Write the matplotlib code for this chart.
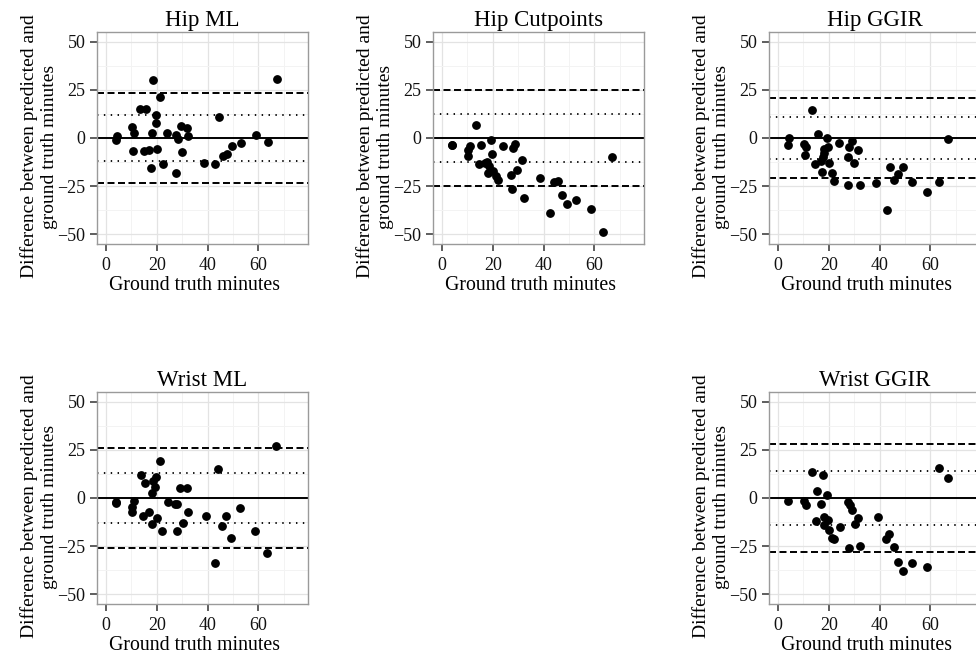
import numpy as np
import matplotlib
matplotlib.use("Agg")
import matplotlib.pyplot as plt
from matplotlib.ticker import MultipleLocator

plt.rcParams['font.family'] = ['Liberation Serif', 'DejaVu Serif']

# data (ground truth minutes, predicted - truth)
hip_ml_x = [4.2, 4.1, 10.4, 11.0, 10.5, 13.4, 15.6, 14.8, 16.9, 18.4, 18.0, 17.6,
            19.7, 19.9, 20.2, 21.3, 22.3, 24.0, 27.6, 28.2, 29.4, 30.1, 27.6, 31.9,
            32.4, 38.7, 43.1, 44.5, 46.0, 47.5, 49.5, 53.2, 59.2, 63.9, 67.4]
hip_ml_y = [1.0, -1.2, 5.9, 2.8, -6.8, 14.8, 15.2, -6.6, -6.4, 30.2, 2.4, -15.7,
            7.7, 12.0, -5.6, 21.1, -13.4, 2.8, 1.7, -0.4, 6.4, -7.5, -18.3, 5.2,
            0.9, -12.9, -13.4, 11.0, -9.4, -8.5, -4.0, -2.4, 1.6, -2.1, 30.5]

hip_cut_x = [3.8, 4.1, 10.3, 11.0, 10.4, 13.4, 15.4, 14.7, 16.8, 17.6, 18.1, 18.4,
             19.4, 19.8, 20.1, 21.2, 22.1, 23.9, 27.3, 27.5, 27.9, 28.7, 29.7, 31.4,
             32.1, 38.4, 42.7, 44.2, 45.7, 47.3, 49.2, 52.7, 58.8, 63.2, 66.8]
hip_cut_y = [-3.8, -3.5, -6.1, -4.0, -9.4, 6.6, -3.7, -13.7, -12.8, -12.2, -18.3, -14.4,
             -1.0, -8.2, -17.2, -19.7, -21.9, -4.2, -19.3, -26.3, -5.2, -3.0, -16.7, -11.5,
             -31.0, -20.7, -39.0, -23.0, -22.5, -29.6, -34.3, -32.1, -36.8, -49.0, -10.1]

hip_ggir_x = [4.2, 3.9, 10.3, 11.0, 10.5, 13.5, 15.6, 14.7, 16.8, 17.7, 17.5, 18.2,
              18.3, 19.5, 19.9, 20.1, 21.2, 22.0, 23.9, 27.4, 27.5, 28.1, 29.1, 29.9,
              31.7, 32.2, 38.4, 42.9, 44.0, 45.8, 47.3, 49.1, 52.7, 58.8, 63.2, 66.8]
hip_ggir_y = [-0.2, -3.8, -3.1, -4.7, -9.0, 14.3, 2.1, -13.4, -11.7, -9.9, -17.4, -8.0,
              -5.7, 0.0, -4.7, -13.0, -18.3, -22.1, -2.4, -24.2, -9.6, -4.5, -1.7, -13.0,
              -6.4, -24.3, -23.3, -37.4, -15.1, -21.7, -18.6, -15.1, -23.0, -28.2, -22.6, -0.7]

wrist_ml_x = [3.9, 3.9, 10.3, 10.3, 11.1, 13.7, 15.5, 14.7, 16.8, 18.4, 18.1, 18.2,
              19.4, 19.8, 20.1, 21.2, 22.1, 24.3, 27.3, 28.0, 27.9, 29.0, 30.4, 31.8,
              32.2, 39.3, 42.8, 44.1, 45.7, 47.3, 49.2, 52.7, 58.7, 63.4, 66.9]
wrist_ml_y = [-1.9, -2.8, -4.8, -7.4, -1.7, 11.9, 7.6, -9.3, -7.4, 9.0, 2.4, -13.5,
              5.7, 11.1, -10.6, 19.0, -17.0, -1.9, -3.1, -2.9, -17.1, 5.0, -13.1, 5.0,
              -7.4, -9.5, -33.7, 14.9, -14.5, -9.5, -20.6, -5.2, -17.0, -28.4, 27.2]

wrist_ggir_x = [4.0, 10.3, 11.0, 13.6, 14.8, 15.5, 16.8, 17.9, 18.3, 18.3, 19.5, 19.9,
                20.1, 21.2, 22.1, 24.4, 27.7, 28.4, 27.9, 29.1, 30.4, 31.6, 32.2, 39.4,
                42.7, 43.9, 45.7, 47.1, 49.1, 52.7, 58.8, 63.2, 66.9]
wrist_ggir_y = [-1.6, -1.6, -3.5, 13.3, -12.1, 3.8, -3.1, 12.1, -10.0, -14.2, 1.4, -11.4,
                -16.6, -20.9, -21.3, -15.1, -1.9, -3.5, -26.1, -6.1, -13.5, -10.4, -25.1, -9.9,
                -21.3, -18.5, -25.3, -33.0, -37.7, -33.9, -35.6, 15.6, 10.2]

titles = ["Hip ML", "Hip Cutpoints", "Hip GGIR", "Wrist ML", "Wrist GGIR"]
xs = [hip_ml_x, hip_cut_x, hip_ggir_x, wrist_ml_x, wrist_ggir_x]
ys = [hip_ml_y, hip_cut_y, hip_ggir_y, wrist_ml_y, wrist_ggir_y]
# limits of agreement (dashed) and inner band (dotted)
loa_outer = [23.3, 25.1, 21.0, 25.8, 28.0]
loa_inner = [11.7, 12.7, 10.7, 12.8, 14.0]

W, H = 976, 656
fig = plt.figure(figsize=(W / 100, H / 100), dpi=100)

# panel boxes in pixels: left, top (right column runs past the image edge)
boxes = [(97, 32), (433, 32), (769, 32), (97, 392), (769, 392)]
pw, ph = 211, 212

for i in range(5):
    left, top = boxes[i]
    ax = fig.add_axes([left / W, (H - top - ph) / H, pw / W, ph / H])

    ax.set_xlim(-3.5, 79.5)
    ax.set_ylim(-55, 55)
    ax.xaxis.set_major_locator(MultipleLocator(20))
    ax.xaxis.set_minor_locator(MultipleLocator(10))
    ax.yaxis.set_major_locator(MultipleLocator(25))
    ax.yaxis.set_minor_locator(MultipleLocator(12.5))
    ax.grid(which="major", color="#E3E3E3", lw=0.9)
    ax.grid(which="minor", color="#F3F3F3", lw=0.7)
    ax.set_axisbelow(True)
    for s in ax.spines.values():
        s.set_color("#9A9A9A")
        s.set_linewidth(1.0)
    ax.tick_params(which="major", direction="out", length=4.7, width=1.1,
                   color="#333333", labelsize=13, labelcolor="#111111")
    ax.tick_params(axis="x", pad=4.3)
    ax.tick_params(axis="y", pad=3.6)
    ax.tick_params(which="minor", length=0)
    ax.set_xticks([0, 20, 40, 60])
    ax.set_yticks([-50, -25, 0, 25, 50])
    ax.set_yticklabels(["\u221250", "\u221225", "0", "25", "50"])

    ax.axhline(0, color="black", lw=1.4, zorder=2)
    ax.axhline(loa_outer[i], color="black", lw=1.4, dashes=(3.6, 1.8), zorder=2)
    ax.axhline(-loa_outer[i], color="black", lw=1.4, dashes=(3.6, 1.8), zorder=2)
    ax.axhline(loa_inner[i], color="black", lw=1.3, dashes=(0.8, 3.0), zorder=2)
    ax.axhline(-loa_inner[i], color="black", lw=1.3, dashes=(0.8, 3.0), zorder=2)

    ax.plot(xs[i], ys[i], "o", color="black", ms=5.3, zorder=3)

    ax.set_title(titles[i], fontsize=16.5, pad=4)
    ax.set_xlabel("Ground truth minutes", fontsize=14.3)
    ax.xaxis.set_label_coords(0.46, -0.15)
    ax.set_ylabel("Difference between predicted and\nground truth minutes",
                  fontsize=14, multialignment="center", linespacing=1.2)
    ax.yaxis.set_label_coords(-0.185, 0.46)

fig.savefig("out.png", dpi=100)
